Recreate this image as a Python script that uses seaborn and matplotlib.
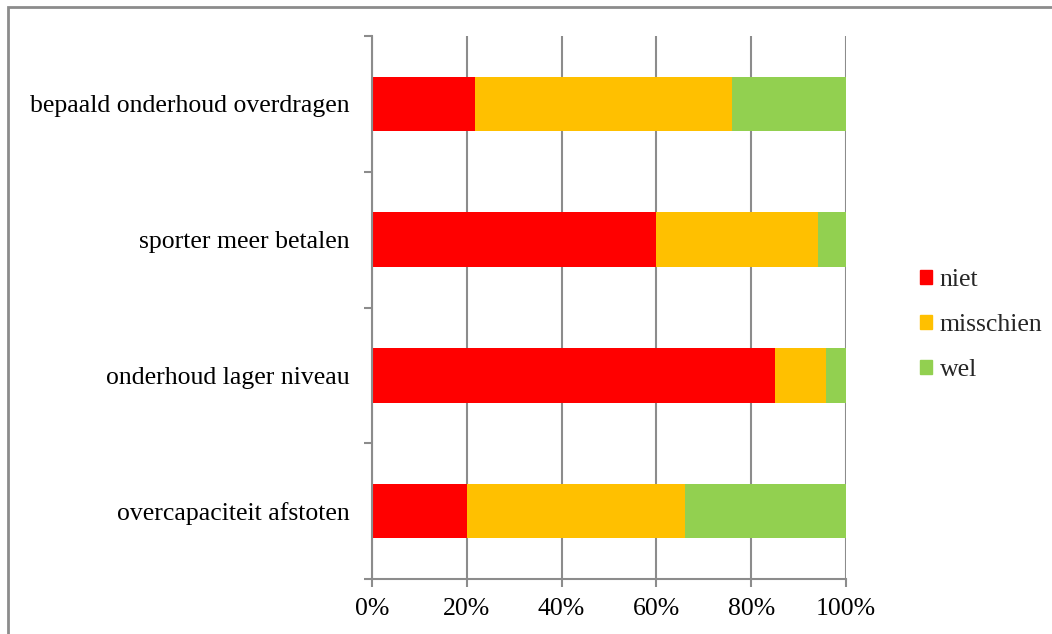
import matplotlib
matplotlib.use("Agg")
import matplotlib.pyplot as plt
from matplotlib.patches import Rectangle
from matplotlib.ticker import FixedLocator, PercentFormatter
import seaborn as sns
import pandas as pd

# Share of responses per measure (percent)
measures = [
    "bepaald onderhoud overdragen",
    "sporter meer betalen",
    "onderhoud lager niveau",
    "overcapaciteit afstoten",
]
niet = [21.7, 60.0, 85.0, 20.0]
misschien = [54.3, 34.0, 10.7, 46.0]
wel = [24.0, 6.0, 4.3, 34.0]

answers = ["niet", "misschien", "wel"]
colors = {"niet": "#FF0000", "misschien": "#FFC000", "wel": "#92D050"}

sns.set_theme(style="white")
plt.rcParams["font.family"] = ["Liberation Serif", "DejaVu Serif"]

FS = 18.5

fig = plt.figure(figsize=(10.52, 6.34), dpi=100)
ax = fig.add_axes([372 / 1052, 1 - 579 / 634, (846 - 372) / 1052, (579 - 36) / 634])

# cumulative stacked horizontal bars via seaborn
df = pd.DataFrame({"measure": measures, "niet": niet, "misschien": misschien, "wel": wel})
cum = df[answers].cumsum(axis=1)
cum["measure"] = df["measure"]
for ans in reversed(answers):
    sns.barplot(data=cum, x=ans, y="measure", order=measures, orient="h",
                color=colors[ans], width=0.4, saturation=1, ax=ax, linewidth=0,
                legend=False)

ax.set_xlim(0, 100)
ax.set_ylim(3.5, -0.5)
ax.xaxis.set_major_locator(FixedLocator([0, 20, 40, 60, 80, 100]))
ax.xaxis.set_major_formatter(PercentFormatter(decimals=0))
ax.set_xlabel("")
ax.set_ylabel("")

grid_c = "#8C8C8C"
ax.grid(axis="x", color=grid_c, linewidth=1.5)
ax.set_axisbelow(True)
for s in ["top", "right"]:
    ax.spines[s].set_visible(False)
for s in ["left", "bottom"]:
    ax.spines[s].set_color(grid_c)
    ax.spines[s].set_linewidth(1.5)

ax.yaxis.set_minor_locator(FixedLocator([-0.5, 0.5, 1.5, 2.5, 3.5]))
ax.tick_params(axis="y", which="major", length=0, labelsize=FS, pad=16, colors="black")
ax.tick_params(axis="y", which="minor", left=True, length=6, width=1.5, color=grid_c)
ax.tick_params(axis="x", bottom=True, length=6, width=1.5, color=grid_c, labelsize=FS,
               labelcolor="black", pad=8)

handles = [Rectangle((0, 0), 1, 1, color=colors[a]) for a in answers]
fig.legend(handles, answers, loc="center left", bbox_to_anchor=(910 / 1052, 1 - 325 / 634),
           frameon=False, fontsize=FS, handlelength=0.45, handleheight=0.45,
           handletextpad=0.3, labelspacing=0.9, borderaxespad=0)

# chart area border
fig.patches.append(Rectangle((8 / 1052, -0.1), 1.2, 1 - 7 / 634 + 0.1,
                             transform=fig.transFigure, fill=False,
                             edgecolor="#8C8C8C", linewidth=2))

fig.savefig("out.png", dpi=100)
